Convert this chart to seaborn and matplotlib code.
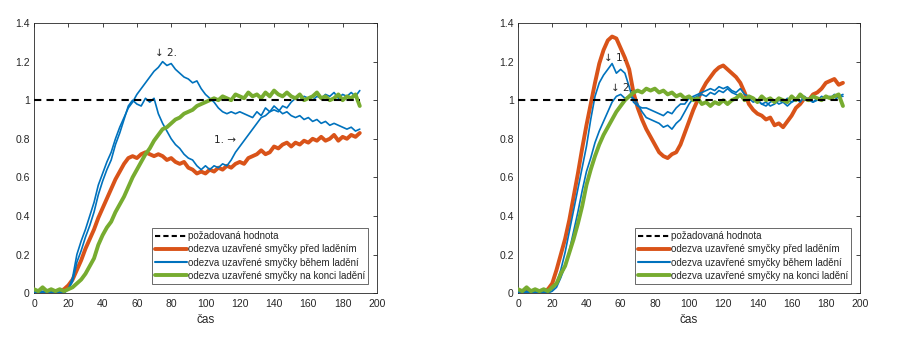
import numpy as np
import pandas as pd
import matplotlib
matplotlib.use("Agg")
import matplotlib.pyplot as plt
import seaborn as sns
from matplotlib.lines import Line2D

# time grid (step 2.5, 0..190)
t = np.arange(0, 190.01, 2.5)

# ---- left panel ----
left_before = [0.01,0.01,0.00,0.01,0.00,0.01,0.01,0.02,0.04,0.07,
               0.12,0.17,0.23,0.28,0.33,0.39,0.44,0.49,0.54,0.59,
               0.63,0.67,0.70,0.71,0.70,0.72,0.73,0.72,0.71,0.72,
               0.71,0.69,0.70,0.68,0.67,0.68,0.65,0.64,0.62,0.63,
               0.62,0.64,0.63,0.65,0.64,0.66,0.65,0.67,0.68,0.67,
               0.70,0.71,0.72,0.74,0.72,0.73,0.76,0.75,0.77,0.78,
               0.76,0.78,0.77,0.79,0.78,0.80,0.79,0.81,0.79,0.80,
               0.82,0.79,0.81,0.80,0.82,0.81,0.83]
left_during_a = [0.00,0.01,0.00,0.01,0.00,0.01,0.00,0.01,0.02,0.08,
                 0.20,0.27,0.33,0.40,0.47,0.56,0.62,0.68,0.73,0.80,
                 0.86,0.91,0.96,0.99,1.03,1.06,1.09,1.12,1.15,1.17,
                 1.20,1.18,1.19,1.16,1.14,1.12,1.11,1.09,1.10,1.06,
                 1.03,1.01,0.99,0.96,0.94,0.93,0.94,0.93,0.94,0.93,
                 0.92,0.91,0.94,0.92,0.96,0.94,0.97,0.95,0.93,0.94,
                 0.92,0.91,0.92,0.90,0.91,0.89,0.90,0.88,0.89,0.87,
                 0.88,0.87,0.86,0.85,0.86,0.84,0.85]
left_during_b = [0.01,0.00,0.01,0.00,0.01,0.00,0.01,0.00,0.02,0.06,
                 0.16,0.22,0.29,0.35,0.42,0.51,0.58,0.64,0.69,0.77,
                 0.83,0.90,0.97,1.00,0.98,0.97,1.01,0.99,1.01,0.93,
                 0.88,0.84,0.80,0.77,0.75,0.72,0.70,0.69,0.66,0.64,
                 0.66,0.64,0.66,0.65,0.67,0.66,0.69,0.73,0.76,0.79,
                 0.82,0.85,0.88,0.91,0.92,0.94,0.95,0.94,0.97,0.96,
                 0.99,1.01,1.00,1.02,1.01,1.00,1.02,1.01,1.03,1.02,
                 1.04,1.01,1.03,1.02,1.04,1.02,1.05]
left_end = [0.02,0.01,0.03,0.01,0.02,0.01,0.02,0.01,0.02,0.03,
            0.05,0.07,0.10,0.14,0.18,0.25,0.30,0.34,0.37,0.42,
            0.46,0.50,0.55,0.60,0.64,0.68,0.72,0.75,0.79,0.82,
            0.85,0.86,0.88,0.90,0.91,0.93,0.94,0.95,0.97,0.98,
            0.99,1.00,1.01,1.00,1.02,1.01,1.00,1.03,1.02,1.01,
            1.04,1.02,1.03,1.01,1.04,1.02,1.05,1.03,1.02,1.04,
            1.02,1.01,1.03,1.00,1.01,1.02,1.04,1.01,1.02,1.00,
            1.01,1.03,1.00,1.02,1.01,1.03,0.97]

# ---- right panel ----
right_before = [0.01,0.00,0.01,0.00,0.01,0.00,0.01,0.02,0.05,0.12,
                0.20,0.28,0.38,0.50,0.62,0.75,0.87,0.98,1.09,1.19,
                1.26,1.31,1.33,1.32,1.27,1.22,1.16,1.04,0.96,0.90,
                0.85,0.81,0.77,0.73,0.71,0.70,0.72,0.73,0.77,0.83,
                0.89,0.95,1.00,1.05,1.09,1.12,1.15,1.17,1.18,1.16,
                1.14,1.12,1.09,1.04,0.98,0.95,0.93,0.92,0.90,0.91,
                0.87,0.88,0.86,0.89,0.92,0.96,0.98,1.01,1.00,1.03,
                1.04,1.06,1.09,1.10,1.11,1.08,1.09]
right_during_1 = [0.00,0.01,0.00,0.01,0.00,0.01,0.00,0.01,0.02,0.05,
                  0.12,0.21,0.32,0.43,0.54,0.65,0.76,0.90,1.02,1.09,
                  1.13,1.16,1.19,1.14,1.16,1.14,1.07,0.99,0.97,0.96,
                  0.96,0.95,0.94,0.93,0.92,0.94,0.93,0.96,0.98,0.98,
                  1.01,1.02,1.03,1.04,1.05,1.06,1.05,1.07,1.06,1.07,
                  1.05,1.04,1.06,1.03,1.02,1.01,1.00,0.98,0.97,0.99,
                  1.00,0.98,0.99,0.97,0.99,1.01,0.99,1.02,1.00,0.99,
                  1.01,1.00,1.02,1.01,1.03,1.02,1.03]
right_during_2 = [0.01,0.00,0.01,0.00,0.01,0.00,0.01,0.00,0.01,0.03,
                  0.08,0.14,0.22,0.32,0.42,0.53,0.63,0.70,0.78,0.84,
                  0.89,0.94,0.99,1.02,1.03,1.01,1.02,1.01,0.98,0.94,
                  0.91,0.90,0.89,0.88,0.86,0.87,0.85,0.88,0.90,0.94,
                  0.98,1.01,1.02,1.03,1.02,1.04,1.03,1.05,1.04,1.06,
                  1.04,1.03,1.02,1.00,1.01,0.99,1.00,0.98,0.99,0.97,
                  0.98,1.00,0.99,1.01,0.99,1.00,1.02,1.00,1.01,0.99,
                  1.00,1.02,1.01,1.02,1.00,1.02,1.02]
right_end = [0.02,0.01,0.03,0.01,0.02,0.01,0.02,0.01,0.03,0.05,
             0.10,0.14,0.21,0.28,0.36,0.45,0.56,0.64,0.71,0.77,
             0.82,0.86,0.90,0.94,0.97,1.00,1.02,1.04,1.05,1.04,
             1.06,1.05,1.06,1.04,1.05,1.03,1.04,1.02,1.03,1.01,
             1.02,1.00,1.01,0.98,0.99,0.97,0.99,0.98,1.00,0.98,
             1.00,1.01,1.03,1.00,1.02,1.01,0.99,1.02,1.00,1.01,
             0.99,1.01,1.00,0.99,1.02,1.00,1.03,1.01,1.00,1.02,
             1.01,1.00,1.02,1.01,1.02,1.03,0.97]

setpoint_t = [0, 190]
setpoint = [1, 1]

labels = ["požadovaná hodnota",
          "odezva uzavřené smyčky před laděním",
          "odezva uzavřené smyčky během ladění",
          "odezva uzavřené smyčky na konci ladění"]
xlabel = "čas"
xticks = [0, 20, 40, 60, 80, 100, 120, 140, 160, 180, 200]
yticks = [0, 0.2, 0.4, 0.6, 0.8, 1.0, 1.2, 1.4]
ytick_labels = ["0", "0.2", "0.4", "0.6", "0.8", "1", "1.2", "1.4"]

C_OR = "#D95319"
C_BL = "#0072BD"
C_GR = "#77AC30"
TXT = "#262626"

sns.set_theme(style="white")
plt.rcParams['font.family'] = ['Liberation Sans', 'DejaVu Sans']

fig = plt.figure(figsize=(9, 3.44), dpi=100)
ax1 = fig.add_axes([0.0378, 0.148, 0.381, 0.785])
ax2 = fig.add_axes([0.5756, 0.148, 0.380, 0.785])


def panel(ax, before, during_list, end, annotations):
    sns.lineplot(x=setpoint_t, y=setpoint, ax=ax, color="black", lw=1.5,
                 linestyle=(0, (3.5, 2.5)), zorder=4)
    sns.lineplot(x=t, y=before, ax=ax, color=C_OR, lw=2.8, zorder=2)
    for d in during_list:
        sns.lineplot(x=t, y=d, ax=ax, color=C_BL, lw=1.2, zorder=3)
    sns.lineplot(x=t, y=end, ax=ax, color=C_GR, lw=2.8, zorder=3)
    ax.set_xlim(0, 200)
    ax.set_ylim(0, 1.4)
    ax.set_xticks(xticks)
    ax.set_yticks(yticks)
    ax.set_yticklabels(ytick_labels)
    ax.tick_params(direction="in", length=3, width=0.6, colors=TXT,
                   labelsize=7.5, top=True, right=True, pad=3)
    ax.tick_params(axis="x", pad=4)
    for s in ax.spines.values():
        s.set_color("#262626")
        s.set_linewidth(0.6)
    ax.set_xlabel(xlabel, fontsize=8.5, color=TXT, labelpad=4)
    ax.set_ylabel("")
    for (x, y, s) in annotations:
        ax.text(x, y, s, fontsize=7.5, color=TXT, ha="left", va="center",
                family=['DejaVu Sans'])
    handles = [Line2D([], [], color="black", lw=1.5, linestyle=(0, (2.5, 1.5))),
               Line2D([], [], color=C_OR, lw=2.8),
               Line2D([], [], color=C_BL, lw=1.5),
               Line2D([], [], color=C_GR, lw=2.8)]
    leg = ax.legend(handles, labels, loc="lower right",
                    bbox_to_anchor=(0.975, 0.035), fontsize=7,
                    frameon=True, fancybox=False, handlelength=3.3,
                    handletextpad=0.15, borderpad=0.3, labelspacing=0.33,
                    borderaxespad=0)
    leg.get_frame().set_edgecolor("#262626")
    leg.get_frame().set_linewidth(0.6)
    for tx in leg.get_texts():
        tx.set_color(TXT)


panel(ax1, left_before, [left_during_a, left_during_b], left_end,
      [(70.5, 1.245, "↓ 2."), (105, 0.795, "1. →")])
panel(ax2, right_before, [right_during_1, right_during_2], right_end,
      [(50, 1.22, "↓ 1."), (54.5, 1.065, "↓ 2.")])

fig.savefig("out.png", dpi=100)
